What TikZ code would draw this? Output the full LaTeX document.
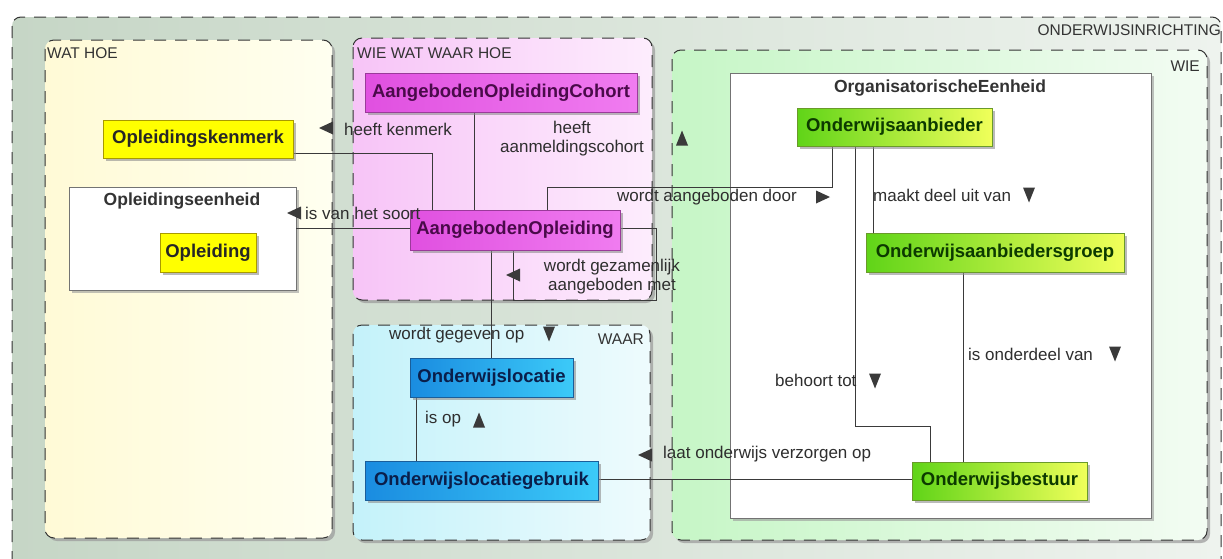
\documentclass[tikz,border=0pt]{standalone}
\usepackage{fontspec}
\setmainfont{Liberation Sans}
\usetikzlibrary{calc,shadows,backgrounds}
\pgfdeclarelayer{edges}
\pgfsetlayers{background,edges,main}
\definecolor{outerL}{HTML}{C6D6C6}
\definecolor{outerR}{HTML}{EEF3EE}
\definecolor{wathoeL}{HTML}{FFFAD6}
\definecolor{wathoeR}{HTML}{FFFFF0}
\definecolor{pinkL}{HTML}{F7C4F7}
\definecolor{pinkR}{HTML}{FDEDFD}
\definecolor{waarL}{HTML}{C4F2FA}
\definecolor{waarR}{HTML}{EEFBFD}
\definecolor{wieL}{HTML}{C6F6C6}
\definecolor{wieR}{HTML}{F3FCF3}
\definecolor{magL}{HTML}{E050E0}
\definecolor{magR}{HTML}{F07CF0}
\definecolor{magD}{HTML}{9A3A9A}
\definecolor{magT}{HTML}{4A0A4A}
\definecolor{yelF}{HTML}{FFFF00}
\definecolor{yelD}{HTML}{A89A00}
\definecolor{bluL}{HTML}{1A8CE0}
\definecolor{bluR}{HTML}{3CCAF8}
\definecolor{bluD}{HTML}{1A5E9A}
\definecolor{bluT}{HTML}{0A1E4A}
\definecolor{grnL}{HTML}{60D418}
\definecolor{grnR}{HTML}{F0FF5A}
\definecolor{grnD}{HTML}{6A9A2A}
\definecolor{grnT}{HTML}{0C3A00}
\definecolor{lnc}{HTML}{3A3A3A}
\definecolor{dashc}{HTML}{333333}
\definecolor{lblc}{HTML}{2E2E2E}
\begin{document}
\begin{tikzpicture}[x=1pt,y=-1pt,
  grp/.style={draw=dashc, dash pattern=on 12pt off 9pt, line width=1pt, rounded corners=9pt},
  gshadow/.style={drop shadow={shadow xshift=3pt,shadow yshift=-3pt,fill=black!40,opacity=.7}},
  ctr/.style={rectangle, draw=black!55, line width=0.8pt, fill=white, inner sep=0pt,
    drop shadow={shadow xshift=2.5pt,shadow yshift=-2.5pt,fill=black!40,opacity=.6}},
  cls/.style={rectangle, line width=0.7pt, inner sep=0pt,
    font=\bfseries\fontsize{18.5}{20}\selectfont,
    drop shadow={shadow xshift=2.5pt,shadow yshift=-2.5pt,fill=black!45,opacity=.6}},
  yel/.style={cls, fill=yelF, draw=yelD, text=black!85},
  mag/.style={cls, left color=magL, right color=magR, draw=magD, text=magT},
  blu/.style={cls, left color=bluL, right color=bluR, draw=bluD, text=bluT},
  grn/.style={cls, left color=grnL, right color=grnR, draw=grnD, text=grnT},
  ctitle/.style={font=\bfseries\fontsize{17.5}{19}\selectfont, text=black!80, inner sep=0pt},
  ttl/.style={font=\fontsize{15.5}{17}\selectfont, text=black!80, inner sep=0pt},
  lbl/.style={font=\fontsize{17}{19}\selectfont, text=lblc, inner sep=0pt, anchor=west},
  conn/.style={draw=lnc, line width=0.9pt},
  trif/.style={fill=lnc},
  tdn/.pic={\fill[trif] (-6,-7.5) -- (6,-7.5) -- (0,7.5) -- cycle;},
  tup/.pic={\fill[trif] (-6,7.5) -- (6,7.5) -- (0,-7.5) -- cycle;},
  tleft/.pic={\fill[trif] (7,-6.5) -- (7,6.5) -- (-7,0) -- cycle;},
  tright/.pic={\fill[trif] (-7,-6.5) -- (-7,6.5) -- (7,0) -- cycle;}
]
\useasboundingbox (0,0) rectangle (1223,558);

\begin{pgfonlayer}{background}
  \fill[white] (0,0) rectangle (1223,558);
  % outer frame ONDERWIJSINRICHTING
  \path[grp, left color=outerL, right color=outerR] (12,17) rectangle (1221,568);
  % group areas
  \path[grp, gshadow, left color=wathoeL, right color=wathoeR] (45,40) rectangle (332,538);
  \path[grp, gshadow, left color=pinkL, right color=pinkR] (353,38) rectangle (652,300);
  \path[grp, gshadow, left color=waarL, right color=waarR] (353,325) rectangle (650,540);
  \path[grp, gshadow, left color=wieL, right color=wieR] (672,50) rectangle (1207,540);
  % containers
  \node[ctr, minimum width=227pt, minimum height=103pt] (oe) at (182.5,238.5) {};
  \node[ctr, minimum width=421pt, minimum height=445pt] (org) at (940.5,295.5) {};
\end{pgfonlayer}

% group titles
\node[ttl, anchor=east] (tonder) at (1221,30) {ONDERWIJSINRICHTING};
\node[ttl, anchor=west] (twathoe) at (47,53) {WAT HOE};
\node[ttl, anchor=west] (twie4) at (357,53) {WIE WAT WAAR HOE};
\node[ttl, anchor=east] (twaar) at (644,339) {WAAR};
\node[ttl, anchor=east] (twie) at (1200,66) {WIE};
\node[ctitle] (oet) at (182,201) {Opleidingseenheid};
\node[ctitle] (orgt) at (940,88) {OrganisatorischeEenheid};

% classes
\node[mag, minimum width=272pt, minimum height=39pt] (aoc) at (501,92.5) {AangebodenOpleidingCohort};
\node[mag, minimum width=210pt, minimum height=40pt] (ao) at (515,230) {AangebodenOpleiding};
\node[yel, minimum width=190pt, minimum height=38pt] (kenm) at (198,139) {Opleidingskenmerk};
\node[yel, minimum width=96pt, minimum height=39pt] (opl) at (208,252.5) {Opleiding};
\node[grn, minimum width=195pt, minimum height=38pt] (oab) at (894.5,127) {Onderwijsaanbieder};
\node[grn, minimum width=258pt, minimum height=39pt] (grp) at (995,252.5) {Onderwijsaanbiedersgroep};
\node[grn, minimum width=175pt, minimum height=38pt] (best) at (999.5,481) {Onderwijsbestuur};
\node[blu, minimum width=163pt, minimum height=39pt] (loc) at (491.5,377.5) {Onderwijslocatie};
\node[blu, minimum width=233pt, minimum height=39pt] (locg) at (481.5,480.5) {Onderwijslocatiegebruik};

% connectors
\begin{pgfonlayer}{edges}
  \draw[conn] ($(kenm.south east)+(0,-5)$) -| ($(ao.north west)+(23,0)$);
  \draw[conn] ($(ao.west)+(0,-2)$) coordinate (ivsA) -- (ivsA -| oe.east);
  \draw[conn] ($(aoc.south)+(-27,0)$) -- ($(ao.north)+(-41,0)$);
  \coordinate (p1) at ($(oab.south)+(-62.5,0)$);
  \draw[conn] ($(ao.north)+(32,0)$) |- ($(p1)+(0,41)$) -- (p1);
  \draw[conn] ($(ao.east)+(0,-2)$) -- ++(36,0) |- ($(ao.south)+(-2,50)$) -- ($(ao.south)+(-2,0)$);
  \draw[conn] (ao.south -| loc.north) -- (loc.north);
  \draw[conn] ($(loc.south west)+(7,0)$) -- ($(locg.north west)+(52,0)$);
  \draw[conn] ($(locg.east)+(0,-1.5)$) coordinate (lovA) -- (lovA -| best.west);
  \draw[conn] ($(oab.south)+(-21.5,0)$) coordinate (mduA) -- (mduA |- grp.north);
  \draw[conn] ($(oab.south)+(-39.5,0)$) |- ($(best.north)+(-69.5,-35)$) -- ($(best.north)+(-69.5,0)$);
  \draw[conn] ($(grp.south)+(-32,0)$) coordinate (iovA) -- (iovA |- best.north);
\end{pgfonlayer}

% connector labels
\node[lbl] (lhk) at (344,129) {heeft kenmerk};
\node[lbl] (livs) at (305,213) {is van het soort};
\node[lbl, anchor=center, align=center] (lhac) at (572,138.5) {heeft\\aanmeldingscohort};
\node[lbl] (lwad) at (617,197) {wordt aangeboden door};
\node[lbl, anchor=center, align=center] (lwgm) at (612,276.5) {wordt gezamenlijk\\aangeboden met};
\node[lbl] (lwgo) at (389,335) {wordt gegeven op};
\node[lbl] (lisop) at (425,419) {is op};
\node[lbl] (llov) at (663,454) {laat onderwijs verzorgen op};
\node[lbl] (lmdu) at (873,195) {maakt deel uit van};
\node[lbl] (lbt) at (775,380) {behoort tot};
\node[lbl] (liov) at (968,354) {is onderdeel van};

% direction triangles
\pic at (326,128) {tleft};
\pic at (294,213) {tleft};
\pic at (682,138) {tup};
\pic at (823,197) {tright};
\pic at (513,275) {tleft};
\pic at (549,334) {tdn};
\pic at (479,420) {tup};
\pic at (645,455) {tleft};
\pic at (1029,195) {tdn};
\pic at (875,381) {tdn};
\pic at (1115,354) {tdn};
\end{tikzpicture}
\end{document}
